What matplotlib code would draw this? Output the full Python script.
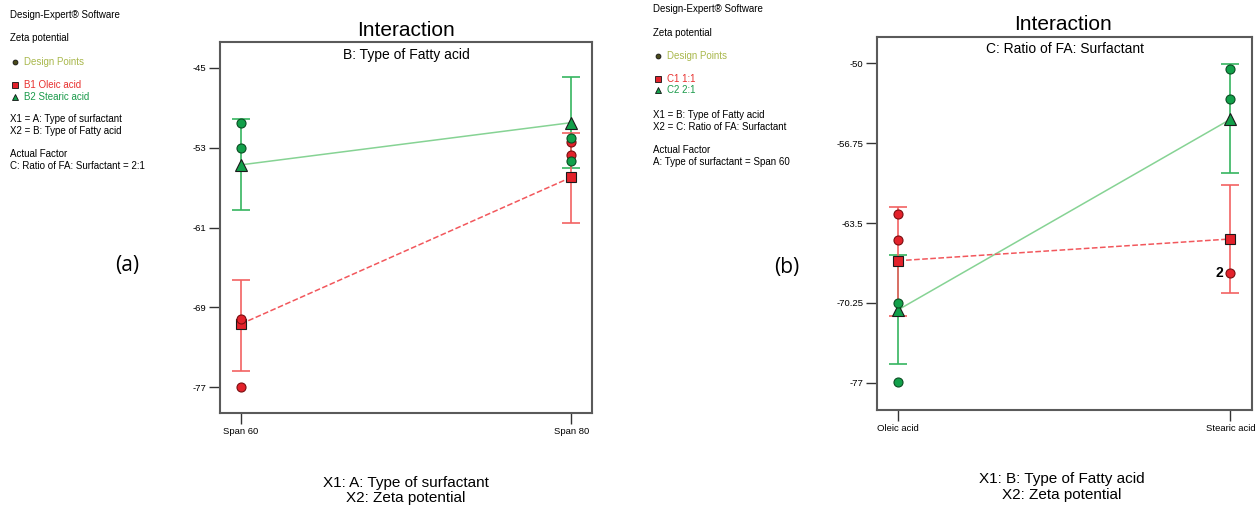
import matplotlib
matplotlib.use("Agg")
import matplotlib.pyplot as plt
from matplotlib.lines import Line2D

W, H = 1259, 508
plt.rcParams['font.family'] = ['Liberation Sans', 'DejaVu Sans']

# ---------------- data ----------------
# Panel (a): A (surfactant) x B (fatty acid), C = 2:1
a_levels = ["Span 60", "Span 80"]
a_oleic_mean = [-70.66, -55.96]
a_oleic_lo = [-75.36, -60.56]
a_oleic_hi = [-66.23, -51.50]
a_stearic_mean = [-54.73, -50.50]
a_stearic_lo = [-59.26, -55.00]
a_stearic_hi = [-50.13, -45.90]
a_oleic_pts = [[-70.20, -76.95], [-52.40, -53.70]]
a_stearic_pts = [[-50.56, -53.06], [-52.00, -54.30]]
a_yticks = [-77, -69, -61, -53, -45]

# Panel (b): B (fatty acid) x C (ratio), A = Span 60
b_levels = ["Oleic acid", "Stearic acid"]
b_c1_mean = [-66.69, -64.85]
b_c1_lo = [-71.33, -69.44]
b_c1_hi = [-62.17, -60.31]
b_c2_mean = [-70.85, -54.73]
b_c2_lo = [-75.40, -59.25]
b_c2_hi = [-66.20, -50.08]
b_c1_pts = [[-62.71, -64.91], [-67.70]]
b_c2_pts = [[-70.24, -76.97], [-50.50, -53.00]]
b_ytick_vals = [-77, -70.25, -63.5, -56.75, -50]
b_ytick_labels = ["-77", "-70.25", "-63.5", "-56.75", "-50"]
b_point_count_label = "2"

# ---------------- styling ----------------
RED_MK = '#e3222b'
RED_EDGE = '#7a0d10'
RED_LINE = '#f2575c'
RED_ERR = '#f26262'
GRN_MK = '#12a04a'
GRN_EDGE = '#0a4d22'
GRN_LINE = '#86d394'
GRN_ERR = '#36b560'
FRAME = '#5a5a5a'


def fx(x):
    return x / W


def fy(y):
    return 1 - y / H


fig = plt.figure(figsize=(W / 100, H / 100), dpi=100)


def make_axes(l, r, t, b):
    return fig.add_axes([fx(l), fy(b), fx(r) - fx(l), fy(t) - fy(b)])


def draw_series(ax, xs, mean, lo, hi, pts, line_color, err_color, mk_color,
                mk_edge, marker, ls, pts_z):
    ax.plot(xs, mean, color=line_color, lw=1.1, ls=ls, zorder=2)
    lower = [m - l for m, l in zip(mean, lo)]
    upper = [h - m for m, h in zip(mean, hi)]
    ax.errorbar(xs, mean, yerr=[lower, upper], fmt='none', ecolor=err_color,
                elinewidth=1.2, capsize=6.5, capthick=1.2, zorder=3)
    ax.plot(xs, mean, ls='none', marker=marker, ms=7 if marker == 's' else 8,
            mfc=mk_color, mec='#1a1a1a', mew=0.8, zorder=5)
    for x, ys in zip(xs, pts):
        ax.plot([x] * len(ys), ys, ls='none', marker='o', ms=6.5,
                mfc=mk_color, mec=mk_edge, mew=0.8, zorder=pts_z)


def style_axes(ax, levels, yticks, ylabels, ylim, xlim):
    ax.set_xlim(*xlim)
    ax.set_ylim(*ylim)
    ax.set_xticks(range(len(levels)))
    ax.set_xticklabels(levels)
    ax.set_yticks(yticks)
    ax.set_yticklabels(ylabels)
    ax.tick_params(direction='out', length=8, width=1.0, color='#333333',
                   labelsize=6.8, pad=2)
    for s in ax.spines.values():
        s.set_color(FRAME)
        s.set_linewidth(1.5)


# ---------------- panel (a) ----------------
axa = make_axes(220, 592, 42, 413)
xa = list(range(len(a_levels)))
draw_series(axa, xa, a_stearic_mean, a_stearic_lo, a_stearic_hi, a_stearic_pts,
            GRN_LINE, GRN_ERR, GRN_MK, GRN_EDGE, '^', '-', 7)
draw_series(axa, xa, a_oleic_mean, a_oleic_lo, a_oleic_hi, a_oleic_pts,
            RED_LINE, RED_ERR, RED_MK, RED_EDGE, 's', '--', 6)
style_axes(axa, a_levels, a_yticks, [str(v) for v in a_yticks],
           (-79.57, -42.43), (-0.063, 1.062))
axa.text(0.5, 0.985, "B: Type of Fatty acid", transform=axa.transAxes,
         ha='center', va='top', fontsize=10)
fig.text(fx(406), fy(31), "Interaction", ha='center', va='center', fontsize=15)
fig.text(fx(406), fy(483), "X1: A: Type of surfactant", ha='center',
         va='center', fontsize=11)
fig.text(fx(406), fy(498), "X2: Zeta potential", ha='center', va='center',
         fontsize=11)

# ---------------- panel (b) ----------------
axb = make_axes(877, 1252, 36.5, 410)
xb = list(range(len(b_levels)))
draw_series(axb, xb, b_c2_mean, b_c2_lo, b_c2_hi, b_c2_pts,
            GRN_LINE, GRN_ERR, GRN_MK, GRN_EDGE, '^', '-', 7)
draw_series(axb, xb, b_c1_mean, b_c1_lo, b_c1_hi, b_c1_pts,
            RED_LINE, RED_ERR, RED_MK, RED_EDGE, 's', '--', 6)
style_axes(axb, b_levels, b_ytick_vals, b_ytick_labels,
           (-79.31, -47.73), (-0.063, 1.065))
axb.annotate(b_point_count_label, (xb[1], b_c1_pts[1][0]),
             xytext=(-5, 0), textcoords='offset points', ha='right',
             va='center', fontsize=10, fontweight='bold', zorder=8)
axb.text(0.5, 0.985, "C: Ratio of FA: Surfactant", transform=axb.transAxes,
         ha='center', va='top', fontsize=10)
fig.text(fx(1063), fy(25), "Interaction", ha='center', va='center', fontsize=15)
fig.text(fx(1062), fy(479), "X1: B: Type of Fatty acid", ha='center',
         va='center', fontsize=11)
fig.text(fx(1062), fy(495), "X2: Zeta potential", ha='center', va='center',
         fontsize=11)

# ---------------- side notes ----------------
def side_block(x0, mk_x, txt_x, ys, lines):
    (y_sw, y_resp, y_dp, y_l1, y_l2, y_x1, y_x2, y_af, y_af2) = ys
    fs = 7
    fig.text(fx(x0), fy(y_sw), "Design-Expert\u00ae Software", fontsize=fs,
             va='center')
    fig.text(fx(x0), fy(y_resp), "Zeta potential", fontsize=fs, va='center')
    fig.add_artist(Line2D([fx(mk_x)], [fy(y_dp)], marker='o', ms=3.5,
                          mfc='#4a4a1a', mec='#111111', mew=0.6, ls='none'))
    fig.text(fx(txt_x), fy(y_dp), "Design Points", fontsize=fs, va='center',
             color='#a9b84c')
    fig.add_artist(Line2D([fx(mk_x)], [fy(y_l1)], marker='s', ms=4,
                          mfc=RED_MK, mec='#111111', mew=0.6, ls='none'))
    fig.text(fx(txt_x), fy(y_l1), lines[0], fontsize=fs, va='center',
             color='#e8302e')
    fig.add_artist(Line2D([fx(mk_x)], [fy(y_l2)], marker='^', ms=4.5,
                          mfc=GRN_MK, mec='#111111', mew=0.6, ls='none'))
    fig.text(fx(txt_x), fy(y_l2), lines[1], fontsize=fs, va='center',
             color='#1a9a4a')
    fig.text(fx(x0), fy(y_x1), lines[2], fontsize=fs, va='center')
    fig.text(fx(x0), fy(y_x2), lines[3], fontsize=fs, va='center')
    fig.text(fx(x0), fy(y_af), "Actual Factor", fontsize=fs, va='center')
    fig.text(fx(x0), fy(y_af2), lines[4], fontsize=fs, va='center')


side_block(10, 15, 24, (15, 38, 62, 85, 97, 119, 131, 154, 166),
           ["B1 Oleic acid", "B2 Stearic acid",
            "X1 = A: Type of surfactant", "X2 = B: Type of Fatty acid",
            "C: Ratio of FA: Surfactant = 2:1"])
side_block(653, 658, 667, (9, 33, 56, 79, 90, 115, 127, 150, 162),
           ["C1 1:1", "C2 2:1",
            "X1 = B: Type of Fatty acid", "X2 = C: Ratio of FA: Surfactant",
            "A: Type of surfactant = Span 60"])

fig.text(fx(127), fy(265), "(a)", ha='center', va='center', fontsize=15,
         family=['Open Sans', 'DejaVu Sans'])
fig.text(fx(787), fy(268), "(b)", ha='center', va='center', fontsize=15,
         family=['Open Sans', 'DejaVu Sans'])

fig.savefig("out.png", dpi=100)
